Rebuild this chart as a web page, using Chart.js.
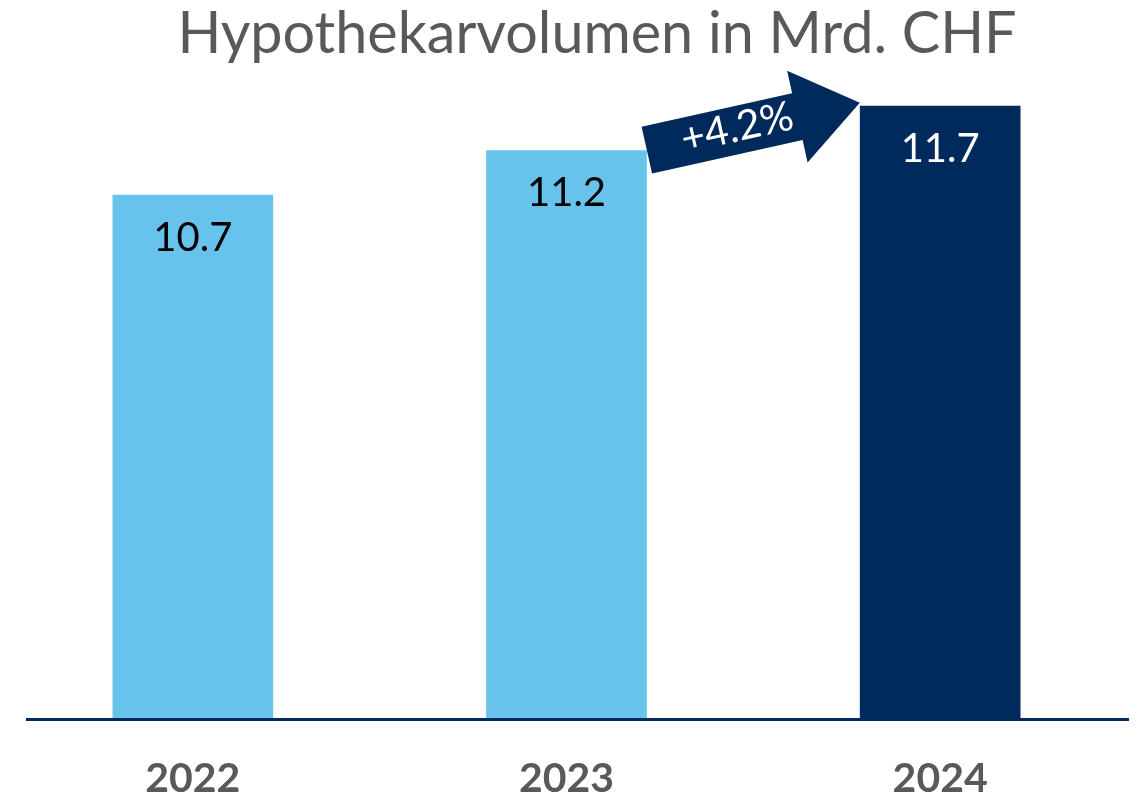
<!DOCTYPE html>
<html>
<head>
<meta charset="utf-8">
<script src="https://cdn.jsdelivr.net/npm/chart.js@4"></script>
<style>
    html, body { margin: 0; padding: 0; background: #fff; }
    #wrap { width: 1138px; height: 799px; }
</style>
</head>
<body>
<div id="wrap"><canvas id="hypoChart"></canvas></div>
<script>
const chartTitle = "Hypothekarvolumen in Mrd. CHF";
const years = ["2022", "2023", "2024"];
const volumes = [10.7, 11.2, 11.7];
const barColors = ["#67C3EC", "#67C3EC", "#002A5C"];
const valueColors = ["#000000", "#000000", "#ffffff"];
const growthLabel = "+4.2%";

const navy = "#002A5C";
const gray = "#595959";

// title drawn by hand so it can sit off-centre like the original
const titleText = {
    id: "titleText",
    afterDraw(chart) {
        const ctx = chart.ctx;
        ctx.save();
        ctx.font = "57.5px Lato";
        ctx.fillStyle = gray;
        ctx.textAlign = "center";
        ctx.textBaseline = "alphabetic";
        ctx.fillText(chartTitle, 597, 53);
        ctx.restore();
    }
};

// value inside each bar, near its top
const valueLabels = {
    id: "valueLabels",
    afterDatasetsDraw(chart) {
        const ctx = chart.ctx;
        const bars = chart.getDatasetMeta(0).data;
        ctx.save();
        ctx.font = "40px Lato";
        ctx.textAlign = "center";
        ctx.textBaseline = "middle";
        bars.forEach((bar, i) => {
            ctx.fillStyle = valueColors[i];
            ctx.fillText(String(volumes[i]), bar.x, bar.y + 43);
        });
        ctx.restore();
    }
};

// baseline under the bars
const baseLine = {
    id: "baseLine",
    afterDatasetsDraw(chart) {
        const ctx = chart.ctx;
        const area = chart.chartArea;
        ctx.save();
        ctx.strokeStyle = navy;
        ctx.lineWidth = 3;
        ctx.beginPath();
        ctx.moveTo(area.left + 20, area.bottom + 1.5);
        ctx.lineTo(area.right + 2, area.bottom + 1.5);
        ctx.stroke();
        ctx.restore();
    }
};

// growth arrow from the 2023 bar to the 2024 bar
const growthArrow = {
    id: "growthArrow",
    afterDatasetsDraw(chart) {
        const ctx = chart.ctx;
        const bars = chart.getDatasetMeta(0).data;
        const a = bars[1], b = bars[2];
        const x0 = a.x + a.width / 2, y0 = a.y;
        const x1 = b.x - b.width / 2, y1 = b.y - 3;
        const len = Math.hypot(x1 - x0, y1 - y0);
        const ang = Math.atan2(y1 - y0, x1 - x0);
        const shaft = 24, head = 47, headLen = 64;
        ctx.save();
        ctx.translate(x0, y0);
        ctx.rotate(ang);
        ctx.fillStyle = navy;
        ctx.beginPath();
        ctx.moveTo(0, -shaft);
        ctx.lineTo(len - headLen, -shaft);
        ctx.lineTo(len - headLen, -head);
        ctx.lineTo(len, 0);
        ctx.lineTo(len - headLen, head);
        ctx.lineTo(len - headLen, shaft);
        ctx.lineTo(0, shaft);
        ctx.closePath();
        ctx.fill();
        ctx.fillStyle = "#ffffff";
        ctx.font = "41px Lato";
        ctx.textAlign = "center";
        ctx.textBaseline = "middle";
        ctx.fillText(growthLabel, 93, -2);
        ctx.restore();
    }
};

new Chart(document.getElementById("hypoChart"), {
    type: "bar",
    data: {
        labels: years,
        datasets: [{
            data: volumes,
            backgroundColor: barColors,
            barPercentage: 0.43,
            categoryPercentage: 1
        }]
    },
    options: {
        responsive: true,
        maintainAspectRatio: false,
        animation: false,
        layout: { padding: { left: 6, right: 11, top: 79, bottom: 0 } },
        plugins: {
            legend: { display: false },
            tooltip: { enabled: false },
            title: { display: false }
        },
        scales: {
            x: {
                grid: { display: false },
                border: { display: false },
                ticks: {
                    color: gray,
                    font: { family: "Lato", size: 41, weight: "bold" },
                    padding: 28
                },
                afterFit: (scale) => { scale.height = 81; }
            },
            y: {
                display: false,
                min: 4.82,
                max: 12
            }
        }
    },
    plugins: [titleText, valueLabels, baseLine, growthArrow]
});
</script>
</body>
</html>
